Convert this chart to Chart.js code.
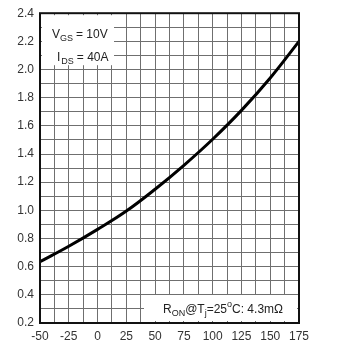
<!DOCTYPE html>
<html>
<head>
<meta charset="utf-8">
<script src="https://cdn.jsdelivr.net/npm/chart.js@4/dist/chart.umd.min.js"></script>
<style>
  html, body { margin: 0; padding: 0; background: #fff; }
  #wrap { width: 358px; height: 355px; }
</style>
</head>
<body>
<div id="wrap"><canvas id="rdsChart"></canvas></div>
<script>
// temperature (°C) vs normalised on-resistance
const temps = [-50, -25, 0, 25, 50, 75, 100, 125, 150, 175];
const rdsNorm = [0.635, 0.745, 0.865, 0.995, 1.15, 1.32, 1.505, 1.71, 1.94, 2.2];
const xTicks = [-50, -25, 0, 25, 50, 75, 100, 125, 150, 175];
const yTicks = [0.2, 0.4, 0.6, 0.8, 1.0, 1.2, 1.4, 1.6, 1.8, 2.0, 2.2, 2.4];

const FONT = 'Liberation Sans, Arial, sans-serif';

// draws a subscripted label piece by piece
function drawParts(ctx, x, y, parts) {
    parts.forEach(p => {
        const small = p.sub || p.sup;
        ctx.font = (small ? '9px ' : '12px ') + FONT;
        ctx.fillText(p.t, x, y + (p.sub ? 3 : 0) + (p.sup ? -6 : 0));
        x += ctx.measureText(p.t).width + (p.gap || 0);
    });
}

const notes = {
    id: 'notes',
    beforeDatasetsDraw(chart) {
        const ctx = chart.ctx;
        const a = chart.chartArea;
        ctx.save();
        ctx.fillStyle = '#fff';
        ctx.fillRect(a.left + 2, a.top + 2, 72, 50);
        ctx.fillRect(a.left + 104, a.bottom - 28, a.right - a.left - 106, 26);
        ctx.fillStyle = '#222';
        ctx.textBaseline = 'alphabetic';
        drawParts(ctx, a.left + 12, a.top + 25, [
            {t: 'V'}, {t: 'GS', sub: true, gap: 3}, {t: '= 10V'}
        ]);
        drawParts(ctx, a.left + 17, a.top + 48, [
            {t: 'I', gap: 1}, {t: 'DS', sub: true, gap: 3}, {t: '= 40A'}
        ]);
        drawParts(ctx, a.left + 123, a.bottom - 10, [
            {t: 'R'}, {t: 'ON', sub: true}, {t: '@T'}, {t: 'j', sub: true}, {t: '=25'},
            {t: 'o', sup: true}, {t: 'C: 4.3mΩ'}
        ]);
        ctx.restore();
    },
    afterDraw(chart) {
        const ctx = chart.ctx;
        const a = chart.chartArea;
        ctx.save();
        ctx.strokeStyle = '#111';
        ctx.lineWidth = 2;
        ctx.strokeRect(a.left, a.top, a.right - a.left, a.bottom - a.top);
        ctx.restore();
    }
};

new Chart(document.getElementById('rdsChart'), {
    type: 'line',
    data: {
        datasets: [{
            data: temps.map((t, i) => ({x: t, y: rdsNorm[i]})),
            borderColor: '#000',
            borderWidth: 3,
            pointRadius: 0,
            tension: 0.4,
            fill: false
        }]
    },
    options: {
        responsive: true,
        maintainAspectRatio: false,
        animation: false,
        layout: { padding: { left: 0, right: 59, top: 11, bottom: 0 } },
        plugins: { legend: { display: false }, tooltip: { enabled: false } },
        scales: {
            x: {
                type: 'linear', min: -50, max: 175,
                afterFit: s => { s.height = 32; },
                ticks: {
                    stepSize: 12.5, autoSkip: false, maxRotation: 0, padding: 6,
                    color: '#333', font: { family: FONT, size: 12 },
                    callback: v => xTicks.includes(v) ? String(v) : ''
                },
                grid: { color: '#6f6f6f', lineWidth: 1, drawTicks: false },
                border: { display: false }
            },
            y: {
                min: 0.2, max: 2.4,
                afterFit: s => { s.width = 40; },
                ticks: {
                    stepSize: 0.1, autoSkip: false, padding: 6,
                    color: '#333', font: { family: FONT, size: 12 },
                    callback: v => {
                        const r = Math.round(v * 10) / 10;
                        return yTicks.some(t => Math.abs(t - r) < 1e-6) ? r.toFixed(1) : '';
                    }
                },
                grid: { color: '#6f6f6f', lineWidth: 1, drawTicks: false },
                border: { display: false }
            }
        }
    },
    plugins: [notes]
});
</script>
</body>
</html>
